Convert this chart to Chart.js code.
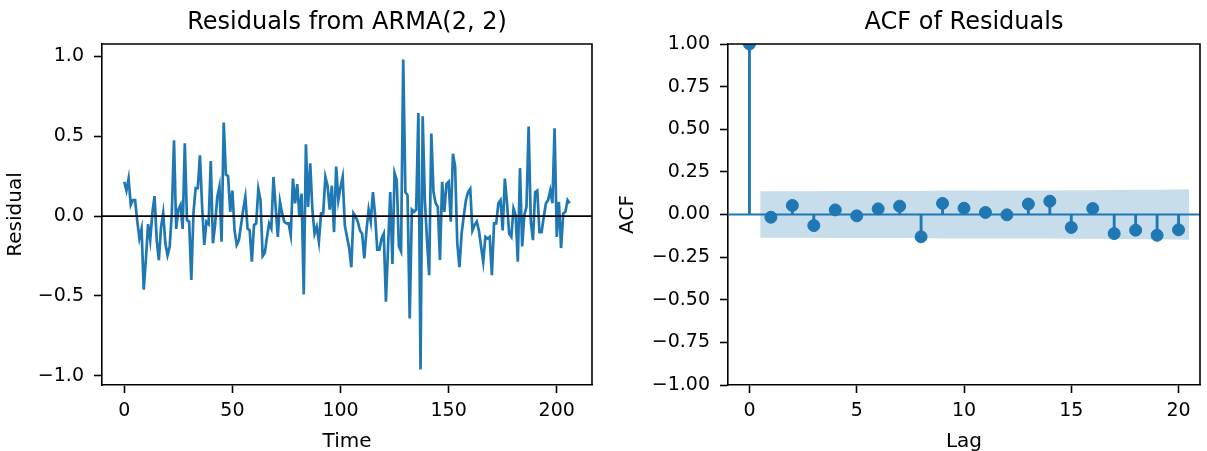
<!DOCTYPE html>
<html>
<head>
<meta charset="utf-8">
<title>Residual diagnostics</title>
<script src="https://cdn.jsdelivr.net/npm/chart.js@4/dist/chart.umd.min.js"></script>
<style>
  html, body { margin: 0; padding: 0; background: #fff; }
  body { width: 1207px; height: 451px; position: relative; overflow: hidden; }
  canvas { position: absolute; top: 0; }
  #residChart { left: 0; }
  #acfChart { left: 600px; }
</style>
</head>
<body>
<canvas id="residChart" width="600" height="451"></canvas>
<canvas id="acfChart" width="607" height="451"></canvas>
<script>
/* ── Data ── */
const residuals = [
  0.215, 0.16, 0.235, 0.07, 0.10, 0.10, -0.03, -0.14, -0.08, -0.46,
  -0.27, -0.05, -0.15, 0.02, 0.125, -0.15, -0.275, -0.07, 0.02, -0.17,
  -0.245, -0.19, 0.02, 0.475, -0.08, 0.04, 0.07, -0.08, 0.455, -0.025,
  -0.035, -0.40, 0.02, 0.175, 0.175, 0.38, 0.06, -0.18, -0.035, -0.05,
  0.345, -0.17, -0.055, 0.12, 0.185, -0.16, 0.585, 0.26, 0.25, 0.027,
  0.16, -0.09, -0.18, -0.15, -0.056, 0.04, 0.12, -0.077, -0.09, -0.285,
  -0.056, -0.046, 0.17, 0.10, -0.25, -0.23, -0.13, -0.046, -0.077, 0.245,
  0.058, -0.13, 0.09, 0.017, -0.035, -0.046, -0.046, -0.12, 0.235, 0.08,
  0.20, -0.004, 0.14, -0.49, 0.45, 0.058, 0.33, 0.04, -0.11, -0.067,
  -0.16, 0.017, 0.017, 0.245, 0.19, 0.04, 0.19, -0.10, 0.31, 0.10,
  0.18, 0.245, -0.06, -0.13, -0.20, -0.32, 0.017, -0.004, -0.035, -0.09,
  -0.11, -0.265, -0.09, 0.04, -0.035, 0.15, 0.006, -0.21, -0.21, -0.14,
  -0.11, -0.535, -0.19, 0.15, -0.30, 0.27, 0.225, -0.19, -0.22, 0.98,
  0.15, 0.13, -0.64, 0.04, 0.027, 0.04, 0.645, -0.96, 0.625, 0.10,
  -0.15, -0.37, 0.517, 0.15, 0.08, 0.058, -0.275, 0.215, 0.027, 0.20,
  0.215, -0.035, 0.39, 0.31, -0.17, -0.32, -0.11, 0.0, 0.10, 0.15,
  0.17, -0.09, -0.056, -0.035, -0.09, -0.19, -0.285, -0.13, -0.14, -0.13,
  -0.37, -0.046, -0.046, 0.08, 0.10, -0.09, 0.235, 0.08, -0.11, -0.13,
  0.048, 0.006, -0.285, 0.30, -0.19, 0.006, 0.058, 0.56, -0.035, -0.15,
  0.15, 0.16, -0.10, -0.10, -0.004, 0.08, 0.10, 0.16, 0.08, 0.55,
  -0.13, 0.09, -0.20, 0.017, 0.027, 0.10, 0.08
];
const residTicksX = [0, 50, 100, 150, 200];
const residTicksY = [-1.0, -0.5, 0.0, 0.5, 1.0];

const acfLags = [0, 1, 2, 3, 4, 5, 6, 7, 8, 9, 10, 11, 12, 13, 14, 15, 16, 17, 18, 19, 20];
const acfValues = [
  1.0, -0.016, 0.053, -0.065, 0.027, -0.008, 0.033, 0.049, -0.131, 0.065,
  0.037, 0.012, -0.002, 0.061, 0.078, -0.076, 0.035, -0.112, -0.092, -0.122, -0.090
];
// 95% band (Bartlett), edges stretched half a lag outward
const confLags = [0.5, 2, 3, 4, 5, 6, 7, 8, 9, 10, 11, 12, 13, 14, 15, 16, 17, 18, 19, 20.5];
const confBound = [
  0.1362, 0.1363, 0.1366, 0.1372, 0.1373, 0.1373, 0.1374, 0.1378, 0.1401, 0.1406,
  0.1408, 0.1408, 0.1408, 0.1413, 0.1421, 0.1429, 0.1430, 0.1446, 0.1457, 0.1476
];
const acfTicksX = [0, 5, 10, 15, 20];
const acfTicksY = [-1.0, -0.75, -0.5, -0.25, 0.0, 0.25, 0.5, 0.75, 1.0];

/* ── Shared look ── */
const BLUE = '#1f77b4';
const FONT = "'DejaVu Sans', sans-serif";
Chart.defaults.font.family = FONT;
Chart.defaults.color = '#000';
Chart.defaults.animation = false;

const minus = (s) => s.replace('-', '\u2212');

// top + right spines (left/bottom come from the axis borders)
const frame = {
  id: 'frame',
  afterDraw(chart) {
    const { ctx, chartArea: a } = chart;
    ctx.save();
    ctx.strokeStyle = '#000';
    ctx.lineWidth = 1.6;
    ctx.beginPath();
    ctx.moveTo(a.left, a.top);
    ctx.lineTo(a.right, a.top);
    ctx.lineTo(a.right, a.bottom);
    ctx.stroke();
    ctx.restore();
  },
};

// horizontal reference line at y = 0
const zeroLine = {
  id: 'zeroLine',
  beforeDatasetsDraw(chart, args, opts) {
    if (opts.front) return;
    drawZero(chart, opts);
  },
  afterDatasetsDraw(chart, args, opts) {
    if (!opts.front) return;
    drawZero(chart, opts);
  },
};

function drawZero(chart, opts) {
  const { ctx, chartArea: a, scales } = chart;
  const y = scales.y.getPixelForValue(0);
  ctx.save();
  ctx.strokeStyle = opts.color;
  ctx.lineWidth = opts.width;
  ctx.beginPath();
  ctx.moveTo(a.left, y);
  ctx.lineTo(a.right, y);
  ctx.stroke();
  ctx.restore();
}

function axisGrid() {
  return {
    display: true,
    drawOnChartArea: false,
    drawTicks: true,
    tickLength: 8,
    tickWidth: 1.6,
    tickColor: '#000',
  };
}

function fixedTicks(values) {
  return (scale) => {
    scale.ticks = values.map((v) => ({ value: v }));
  };
}

/* ── Residuals line ── */
function initResidChart() {
  new Chart(document.getElementById('residChart'), {
    type: 'line',
    data: {
      datasets: [
        {
          data: residuals.map((y, i) => ({ x: i, y })),
          borderColor: BLUE,
          borderWidth: 2.7,
          pointRadius: 0,
          tension: 0,
        },
      ],
    },
    options: {
      responsive: false,
      layout: { padding: { left: 0, right: 8, top: 0, bottom: 0 } },
      plugins: {
        legend: { display: false },
        tooltip: { enabled: false },
        title: {
          display: true,
          text: 'Residuals from ARMA(2, 2)',
          fullSize: false,
          font: { size: 24, weight: 'normal' },
          color: '#000',
          padding: { top: 8.5, bottom: 6.7 },
        },
        zeroLine: { color: '#000', width: 1.8, front: true },
      },
      scales: {
        x: {
          type: 'linear',
          min: -10.3,
          max: 216.3,
          afterBuildTicks: fixedTicks(residTicksX),
          afterFit: (s) => { s.height = 66; },
          grid: axisGrid(),
          border: { display: true, color: '#000', width: 1.6 },
          ticks: { font: { size: 19 }, padding: 7, maxRotation: 0, autoSkip: false },
          title: { display: true, text: 'Time', font: { size: 20 }, padding: { top: 0, bottom: -3 } },
        },
        y: {
          min: -1.057,
          max: 1.077,
          afterBuildTicks: fixedTicks(residTicksY),
          afterFit: (s) => { s.width = 102; },
          grid: axisGrid(),
          border: { display: true, color: '#000', width: 1.6 },
          ticks: {
            font: { size: 19 },
            padding: 10,
            autoSkip: false,
            callback: (v) => minus(v.toFixed(1)),
          },
          title: { display: true, text: 'Residual', font: { size: 20 }, padding: { top: 4, bottom: 0 } },
        },
      },
    },
    plugins: [frame, zeroLine],
  });
}

/* ── ACF stems ── */
function initAcfChart() {
  new Chart(document.getElementById('acfChart'), {
    type: 'scatter',
    data: {
      datasets: [
        {
          type: 'scatter',
          data: acfLags.map((x, i) => ({ x, y: acfValues[i] })),
          backgroundColor: BLUE,
          borderColor: BLUE,
          borderWidth: 1,
          pointRadius: 6,
          clip: 0,
        },
        {
          type: 'bar',
          data: acfLags.map((x, i) => ({ x, y: acfValues[i] })),
          backgroundColor: BLUE,
          barThickness: 2.2,
          borderWidth: 0,
        },
        {
          type: 'line',
          data: confLags.map((x, i) => ({ x, y: confBound[i] })),
          borderWidth: 0,
          pointRadius: 0,
          tension: 0,
          fill: '+1',
          backgroundColor: 'rgba(31, 119, 180, 0.25)',
        },
        {
          type: 'line',
          data: confLags.map((x, i) => ({ x, y: -confBound[i] })),
          borderWidth: 0,
          pointRadius: 0,
          tension: 0,
          fill: false,
        },
      ],
    },
    options: {
      responsive: false,
      layout: { padding: { left: 0, right: 1, top: 0, bottom: 0 } },
      plugins: {
        legend: { display: false },
        tooltip: { enabled: false },
        title: {
          display: true,
          text: 'ACF of Residuals',
          fullSize: false,
          font: { size: 24, weight: 'normal' },
          color: '#000',
          padding: { top: 8.5, bottom: 6.7 },
        },
        zeroLine: { color: BLUE, width: 2.2, front: false },
      },
      scales: {
        x: {
          type: 'linear',
          min: -1,
          max: 21,
          offset: false,
          afterBuildTicks: fixedTicks(acfTicksX),
          afterFit: (s) => { s.height = 66; },
          grid: Object.assign(axisGrid(), { offset: false }),
          border: { display: true, color: '#000', width: 1.6 },
          ticks: { font: { size: 19 }, padding: 7, maxRotation: 0, autoSkip: false },
          title: { display: true, text: 'Lag', font: { size: 20 }, padding: { top: 0, bottom: -3 } },
        },
        y: {
          min: -1,
          max: 1,
          afterBuildTicks: fixedTicks(acfTicksY),
          afterFit: (s) => { s.width = 128; },
          grid: axisGrid(),
          border: { display: true, color: '#000', width: 1.6 },
          ticks: {
            font: { size: 19 },
            padding: 10,
            autoSkip: false,
            callback: (v) => minus(v.toFixed(2)),
          },
          title: { display: true, text: 'ACF', font: { size: 20 }, padding: { top: 16, bottom: 0 } },
        },
      },
    },
    plugins: [frame, zeroLine],
  });
}

initResidChart();
initAcfChart();
</script>
</body>
</html>
